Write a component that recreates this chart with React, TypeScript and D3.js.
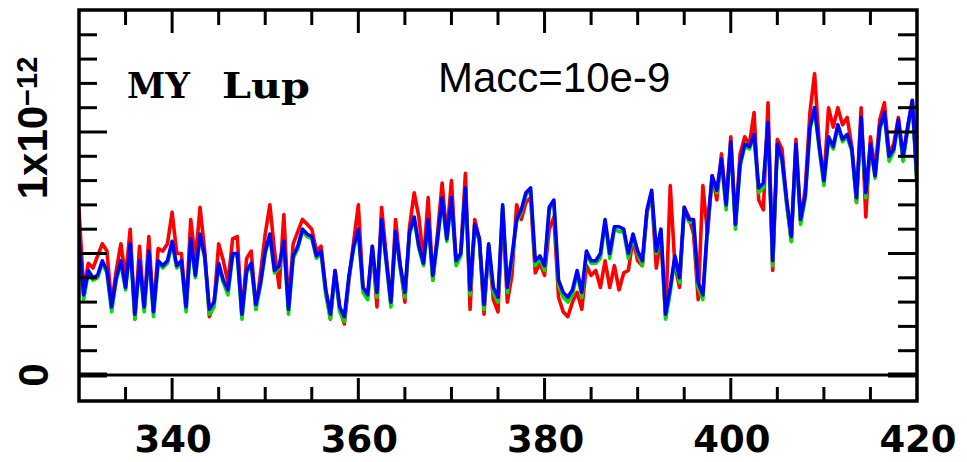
import React from "react";
import * as d3 from "d3";

// wavelength grid start/end/step (nm)
const waveStart = 330;
const waveStep = 0.5;

// flux in units of 1e-12, one value per 0.5 nm from 330 to 420
const blueFlux = [
  0.57,0.33,0.43,0.40,0.41,0.47,0.43,0.28,0.40,0.47,
  0.36,0.54,0.25,0.47,0.28,0.51,0.26,0.47,0.45,0.47,
  0.55,0.45,0.47,0.28,0.56,0.41,0.58,0.49,0.27,0.30,
  0.46,0.39,0.35,0.50,0.50,0.25,0.43,0.46,0.29,0.38,
  0.51,0.58,0.43,0.45,0.55,0.27,0.49,0.53,0.60,0.58,
  0.57,0.49,0.51,0.35,0.25,0.43,0.28,0.24,0.41,0.53,
  0.60,0.36,0.33,0.53,0.34,0.64,0.47,0.30,0.59,0.45,
  0.34,0.59,0.65,0.53,0.46,0.64,0.41,0.56,0.73,0.56,
  0.73,0.47,0.50,0.77,0.35,0.62,0.56,0.29,0.54,0.36,
  0.32,0.70,0.36,0.49,0.64,0.68,0.75,0.77,0.47,0.49,
  0.45,0.69,0.72,0.39,0.34,0.32,0.35,0.43,0.34,0.51,
  0.47,0.47,0.50,0.64,0.50,0.61,0.61,0.60,0.50,0.58,
  0.51,0.47,0.68,0.76,0.51,0.60,0.25,0.36,0.49,0.40,
  0.69,0.64,0.64,0.38,0.33,0.61,0.82,0.76,0.89,0.70,
  0.96,0.62,0.87,0.95,0.94,0.99,0.77,0.79,1.04,0.47,
  0.95,0.89,0.72,0.57,0.95,0.64,0.74,1.02,1.10,0.94,
  0.80,0.98,0.94,1.03,0.97,0.99,0.93,0.73,1.06,0.75,
  0.95,0.82,1.02,1.08,0.90,0.93,1.05,0.90,1.02,1.13,
  0.80,
];

const redFlux = [
  0.68,0.35,0.46,0.44,0.49,0.54,0.51,0.29,0.43,0.54,
  0.40,0.60,0.23,0.53,0.27,0.57,0.26,0.52,0.51,0.54,
  0.67,0.50,0.50,0.27,0.64,0.47,0.69,0.51,0.24,0.29,
  0.54,0.47,0.38,0.56,0.57,0.24,0.48,0.51,0.27,0.42,
  0.58,0.70,0.51,0.36,0.66,0.28,0.54,0.59,0.64,0.62,
  0.60,0.51,0.53,0.35,0.23,0.43,0.27,0.21,0.39,0.55,
  0.70,0.36,0.32,0.53,0.28,0.69,0.49,0.29,0.64,0.45,
  0.30,0.61,0.75,0.65,0.47,0.73,0.39,0.58,0.79,0.57,
  0.80,0.46,0.50,0.83,0.27,0.64,0.56,0.25,0.53,0.31,
  0.26,0.68,0.30,0.41,0.70,0.64,0.71,0.73,0.42,0.46,
  0.41,0.60,0.65,0.32,0.26,0.24,0.30,0.34,0.27,0.45,
  0.41,0.43,0.36,0.47,0.36,0.45,0.35,0.42,0.43,0.56,
  0.47,0.45,0.67,0.74,0.44,0.56,0.24,0.78,0.45,0.36,
  0.69,0.65,0.58,0.31,0.78,0.58,0.82,0.72,0.91,0.70,
  0.98,0.62,0.91,0.98,0.95,1.08,0.72,0.68,1.12,0.43,
  0.97,0.93,0.71,0.55,0.97,0.63,0.77,1.08,1.24,0.95,
  0.80,1.10,1.02,1.10,1.03,1.06,0.94,0.71,1.10,0.65,
  0.98,0.84,1.05,1.12,0.91,0.95,1.06,0.89,1.02,1.13,
  0.78,
];

const greenFlux = [
  0.56,0.31,0.42,0.39,0.40,0.46,0.42,0.26,0.39,0.46,
  0.35,0.53,0.23,0.46,0.26,0.50,0.24,0.46,0.44,0.46,
  0.54,0.44,0.46,0.26,0.55,0.40,0.57,0.48,0.25,0.28,
  0.45,0.38,0.33,0.49,0.49,0.23,0.42,0.45,0.27,0.37,
  0.50,0.57,0.42,0.44,0.54,0.25,0.48,0.52,0.59,0.57,
  0.56,0.48,0.50,0.33,0.23,0.42,0.26,0.22,0.40,0.52,
  0.59,0.34,0.31,0.52,0.32,0.63,0.46,0.28,0.58,0.44,
  0.32,0.58,0.64,0.52,0.45,0.63,0.39,0.55,0.72,0.55,
  0.72,0.45,0.49,0.76,0.33,0.61,0.55,0.27,0.53,0.34,
  0.30,0.69,0.34,0.48,0.63,0.67,0.74,0.76,0.45,0.48,
  0.43,0.68,0.71,0.37,0.32,0.30,0.33,0.42,0.32,0.50,
  0.46,0.46,0.48,0.63,0.48,0.60,0.59,0.59,0.48,0.57,
  0.50,0.45,0.67,0.75,0.50,0.59,0.23,0.34,0.48,0.38,
  0.68,0.63,0.63,0.36,0.31,0.60,0.81,0.75,0.88,0.68,
  0.95,0.60,0.86,0.94,0.93,0.98,0.75,0.77,1.03,0.45,
  0.94,0.88,0.70,0.55,0.94,0.62,0.73,1.01,1.09,0.93,
  0.78,0.97,0.93,1.02,0.96,0.98,0.92,0.71,1.05,0.73,
  0.94,0.81,1.01,1.07,0.88,0.92,1.04,0.88,1.01,1.12,
  0.78,
];

const xTickLabels = [340, 360, 380, 400, 420];
const xMinorTicks = [335, 345, 350, 355, 365, 370, 375, 385, 390, 395, 405, 410, 415];
const xMajorTicks = [340, 360, 380, 400];
const yMinorTicks = [0.1, 0.2, 0.3, 0.4, 0.6, 0.7, 0.8, 0.9, 1.1, 1.2, 1.3, 1.4];
const yMajorTicks = [0.5, 1.0];
const starName = "MY Lup";
const annotation = "Macc=10e-9";

const W = 967;
const H = 462;
const L = 79, R = 917, T = 10, B = 401;

export default function App() {
  const x = d3.scaleLinear().domain([330, 420]).range([L, R]);
  const y = d3.scaleLinear().domain([-0.107, 1.502]).range([B, T]);

  const toPts = (arr: number[]) => arr.map((v, i) => [waveStart + i * waveStep, v] as [number, number]);
  const line = d3.line<[number, number]>().x(d => x(d[0])).y(d => y(d[1]));

  const series = [
    { data: redFlux, color: "#ff0000" },
    { data: greenFlux, color: "#00e000" },
    { data: blueFlux, color: "#0000ff" },
  ];

  const tickStroke = 3;

  return (
    <svg width={W} height={H} style={{ position: "absolute", left: 0, top: 0, background: "#fff" }}>
      <defs>
        <clipPath id="plotclip">
          <rect x={L} y={T} width={R - L} height={B - T} />
        </clipPath>
      </defs>
      {/* data */}
      <g clipPath="url(#plotclip)">
        {series.map((s, i) => (
          <path key={i} d={line(toPts(s.data)) || ""} fill="none" stroke={s.color}
            strokeWidth={3.6} strokeLinejoin="round" strokeLinecap="round" />
        ))}
      </g>

      {/* zero line */}
      <line x1={L} x2={R} y1={y(0)} y2={y(0)} stroke="#000" strokeWidth={3} />
      <line x1={L} x2={L + 28} y1={y(0)} y2={y(0)} stroke="#000" strokeWidth={5} />
      <line x1={R - 29} x2={R} y1={y(0)} y2={y(0)} stroke="#000" strokeWidth={5} />

      {/* y ticks */}
      {yMinorTicks.map(v => (
        <g key={"ym" + v}>
          <line x1={L} x2={L + 18} y1={y(v)} y2={y(v)} stroke="#000" strokeWidth={tickStroke} />
          <line x1={R - 19} x2={R} y1={y(v)} y2={y(v)} stroke="#000" strokeWidth={tickStroke} />
        </g>
      ))}
      {yMajorTicks.map(v => (
        <g key={"yM" + v}>
          <line x1={L} x2={L + 28} y1={y(v)} y2={y(v)} stroke="#000" strokeWidth={tickStroke} />
          <line x1={R - 29} x2={R} y1={y(v)} y2={y(v)} stroke="#000" strokeWidth={tickStroke} />
        </g>
      ))}

      {/* x ticks */}
      {xMinorTicks.map(v => (
        <g key={"xm" + v}>
          <line x1={x(v)} x2={x(v)} y1={B} y2={B - 14} stroke="#000" strokeWidth={tickStroke} />
          <line x1={x(v)} x2={x(v)} y1={T} y2={T + 15} stroke="#000" strokeWidth={tickStroke} />
        </g>
      ))}
      {xMajorTicks.map(v => (
        <g key={"xM" + v}>
          <line x1={x(v)} x2={x(v)} y1={B} y2={B - 23} stroke="#000" strokeWidth={tickStroke} />
          <line x1={x(v)} x2={x(v)} y1={T} y2={T + 23} stroke="#000" strokeWidth={tickStroke} />
        </g>
      ))}

      {/* frame */}
      <rect x={L} y={T} width={R - L} height={B - T} fill="none" stroke="#000" strokeWidth={3.5} />

      {/* x tick labels */}
      {xTickLabels.map(v => (
        <text key={"xl" + v} x={x(v) + 1} y={452} textAnchor="middle"
          fontFamily="'DejaVu Sans', sans-serif" fontWeight="bold" fontSize={37} fill="#000">
          {v}
        </text>
      ))}

      {/* y tick labels (rotated) */}
      <text transform={`translate(48,${y(0)}) rotate(-90)`} textAnchor="middle"
        fontFamily="'Liberation Sans', Arial, sans-serif" fontWeight="bold" fontSize={42} fill="#000">0</text>
      <text transform={`translate(47,${y(1) - 4}) rotate(-90)`} textAnchor="middle"
        fontFamily="'Liberation Sans', Arial, sans-serif" fontWeight="bold" fontSize={42} fill="#000">
        1x10<tspan fontSize={29} dy={-10}>{"\u221212"}</tspan>
      </text>

      {/* star name */}
      <text x={127} y={98} fontFamily="'DejaVu Serif', serif" fontWeight="bold" fontSize={36} fill="#000">
        <tspan x={127} textLength={63} lengthAdjust="spacingAndGlyphs">{starName.split(" ")[0]}</tspan>
        <tspan x={222} textLength={88} lengthAdjust="spacingAndGlyphs">{starName.split(" ")[1]}</tspan>
      </text>

      {/* annotation */}
      <text x={438} y={92} fontFamily="'Liberation Sans', Arial, sans-serif" fontSize={42} fill="#000">
        {annotation}
      </text>
    </svg>
  );
}
